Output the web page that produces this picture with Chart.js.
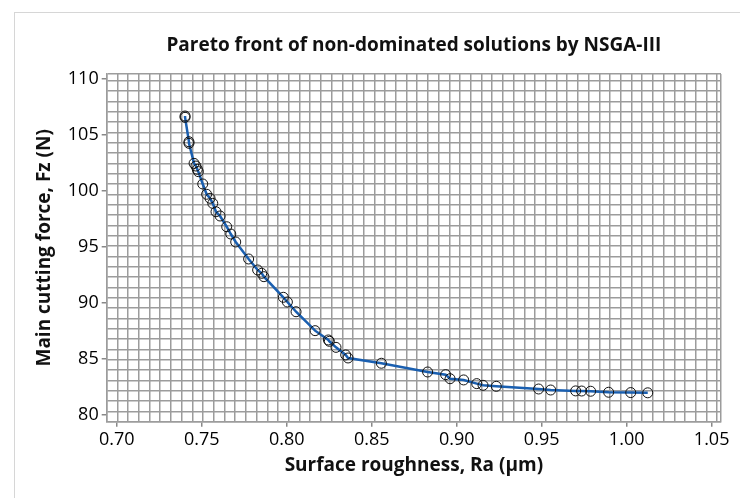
<!DOCTYPE html>
<html>
<head>
<meta charset="utf-8">
<script src="https://cdn.jsdelivr.net/npm/chart.js@4"></script>
<style>
  html, body { margin: 0; padding: 0; background: #fff; overflow: hidden; }
  #wrap { position: relative; width: 740px; height: 498px; }
  #frame { position: absolute; left: 14px; top: 12px; width: 740px; height: 500px; border: 1px solid #d6d6d6; pointer-events: none; }
  canvas { position: absolute; left: 0; top: 0; }
</style>
</head>
<body>
<div id="wrap">
  <canvas id="pareto" width="740" height="498"></canvas>
  <div id="frame"></div>
</div>
<script>
// surface roughness Ra (um) and main cutting force Fz (N)
const raValues = [0.7402, 0.7402, 0.7425, 0.7425, 0.7455, 0.7466, 0.7474, 0.7480, 0.7506, 0.7529,
  0.7549, 0.7565, 0.7584, 0.7608, 0.7647, 0.7671, 0.7700, 0.7776, 0.7829, 0.7853,
  0.7866, 0.7980, 0.8004, 0.8055, 0.8167, 0.8245, 0.8251, 0.8290, 0.8347, 0.8361,
  0.8557, 0.8829, 0.8935, 0.8961, 0.9041, 0.9118, 0.9155, 0.9233, 0.9482, 0.9553,
  0.9700, 0.9735, 0.9788, 0.9894, 1.0024, 1.0124];
const fzValues = [106.70, 106.58, 104.40, 104.26, 102.47, 102.23, 101.94, 101.73, 100.63, 99.71,
  99.35, 98.90, 98.15, 97.77, 96.81, 96.16, 95.45, 93.93, 92.95, 92.65,
  92.35, 90.51, 90.09, 89.22, 87.53, 86.70, 86.58, 86.04, 85.36, 85.09,
  84.62, 83.84, 83.60, 83.24, 83.13, 82.80, 82.65, 82.56, 82.32, 82.23,
  82.15, 82.14, 82.12, 82.03, 82.00, 81.98];

const xTickValues = [0.70, 0.75, 0.80, 0.85, 0.90, 0.95, 1.00, 1.05];
const yTickValues = [80, 85, 90, 95, 100, 105, 110];

const xMin = 0.6941, xMax = 1.0555;
const yMin = 79.40, yMax = 110.45;

// background grid (not tied to the major ticks)
const gridColor = "#9c9c9c";
function gridValues(start, step, count) {
  let vals = [];
  for (let k = 0; k < count; k++) vals.push(start + k * step);
  return vals;
}
const xGrid = [...gridValues(xMin, 0.0063, 58), xMax];
const yGrid = [yMin, ...gridValues(109.85, -0.923, 33), yMax];

function isMajor(list, v) {
  return list.some((t) => Math.abs(t - v) < 1e-6);
}

const points = raValues.map((x, i) => ({ x: x, y: fzValues[i] }));

const fontFam = "'Open Sans', 'Noto Sans', sans-serif";

const ctx = document.getElementById("pareto").getContext("2d");
const myChart = new Chart(ctx, {
  type: "scatter",
  data: {
    datasets: [
      {
        data: points,
        showLine: true,
        borderColor: "#1a5fb0",
        borderWidth: 2.5,
        tension: 0,
        pointStyle: "circle",
        pointRadius: 5,
        pointBorderColor: "#111",
        pointBorderWidth: 1,
        pointBackgroundColor: "rgba(0,0,0,0)",
      },
    ],
  },
  options: {
    responsive: false,
    animation: false,
    layout: { padding: { left: 0, right: 19, top: 0, bottom: 0 } },
    plugins: {
      legend: { display: false },
      tooltip: { enabled: false },
      title: { display: false },
    },
    scales: {
      // carries the chart title so it is centred over the plot area
      top: {
        type: "linear",
        position: "top",
        min: xMin,
        max: xMax,
        afterFit: (scale) => {
          scale.height = 74;
        },
        ticks: { display: false },
        grid: { display: false, drawTicks: false },
        border: { display: false },
        title: {
          display: true,
          text: "Pareto front of non-dominated solutions by NSGA-III",
          color: "#111",
          font: { family: fontFam, size: 19, weight: "bold", lineHeight: 1.2 },
          padding: { top: 34.6, bottom: 0 },
        },
      },
      x: {
        type: "linear",
        position: "bottom",
        min: xMin,
        max: xMax,
        afterBuildTicks: (scale) => {
          let vals = [...xGrid, ...xTickValues].sort((a, b) => a - b);
          scale.ticks = vals.map((v) => ({ value: v }));
        },
        afterFit: (scale) => {
          scale.height = 76.3;
        },
        ticks: {
          autoSkip: false,
          maxRotation: 0,
          padding: 2,
          color: "#000",
          font: { family: fontFam, size: 18 },
          callback: (value) => (isMajor(xTickValues, value) ? value.toFixed(2) : ""),
        },
        grid: {
          color: (c) => (c.tick && isMajor(xTickValues, c.tick.value) ? "rgba(0,0,0,0)" : gridColor),
          tickColor: (c) => (c.tick && isMajor(xTickValues, c.tick.value) ? "#888" : "rgba(0,0,0,0)"),
          lineWidth: 1.5,
          tickLength: 5,
        },
        border: { color: gridColor, width: 1.5 },
        title: {
          display: true,
          text: "Surface roughness, Ra (µm)",
          color: "#111",
          font: { family: fontFam, size: 19, weight: "bold", lineHeight: 1.2 },
          padding: { top: 0, bottom: 20.6 },
        },
      },
      y: {
        type: "linear",
        min: yMin,
        max: yMax,
        afterBuildTicks: (scale) => {
          let vals = [...yGrid, ...yTickValues].sort((a, b) => a - b);
          scale.ticks = vals.map((v) => ({ value: v }));
        },
        afterFit: (scale) => {
          scale.width = 106.7;
        },
        ticks: {
          autoSkip: false,
          padding: 3,
          color: "#000",
          font: { family: fontFam, size: 18 },
          callback: (value) => (isMajor(yTickValues, value) ? String(value) : ""),
        },
        grid: {
          color: (c) => (c.tick && isMajor(yTickValues, c.tick.value) ? "rgba(0,0,0,0)" : gridColor),
          tickColor: (c) => (c.tick && isMajor(yTickValues, c.tick.value) ? "#888" : "rgba(0,0,0,0)"),
          lineWidth: 1.5,
          tickLength: 5,
        },
        border: { color: gridColor, width: 1.5 },
        title: {
          display: true,
          text: "Main cutting force, Fz (N)",
          color: "#111",
          font: { family: fontFam, size: 19, weight: "bold", lineHeight: 1.2 },
          padding: { top: 33.6, bottom: 0 },
        },
      },
    },
  },
});
</script>
</body>
</html>
